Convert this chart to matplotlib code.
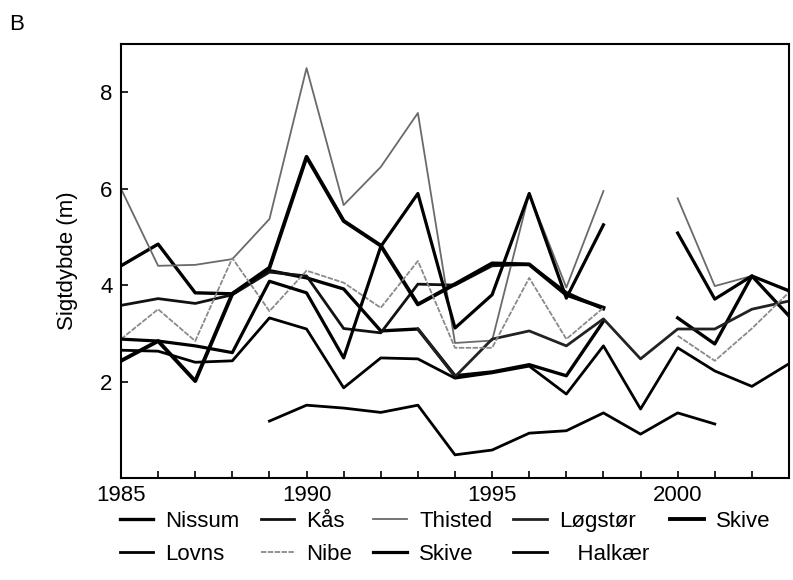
import numpy as np
import matplotlib
matplotlib.use("Agg")
import matplotlib.pyplot as plt

plt.rcParams['font.family'] = ['Liberation Sans', 'DejaVu Sans']

# === Data ===
years = np.arange(1985, 2004)
nan = np.nan

nissum = [4.40, 4.85, 3.84, 3.82, 4.30, 4.15, 3.92, 3.05, 3.09, 2.12, 2.20, 2.35, 2.12, 3.25,
          nan, 3.32, 2.78, 4.19, 3.36]
kaas = [3.58, 3.72, 3.62, 3.80, 4.27, 4.19, 3.10, 3.01, 4.02, 4.00, 4.40, 4.43, 3.85, 3.50,
        nan, nan, nan, nan, nan]
thisted = [6.00, 4.40, 4.42, 4.54, 5.37, 8.50, 5.66, 6.45, 7.57, 2.80, 2.85, 5.90, 3.95, 5.95,
           nan, 5.80, 3.98, 4.19, 3.90]
logstor = [nan, nan, nan, nan, nan, nan, nan, nan, 3.09, 2.10, 2.88, 3.05, 2.74, 3.30,
           2.47, 3.09, 3.09, 3.50, 3.67]
skive1 = [2.43, 2.84, 2.01, 3.82, 4.36, 6.66, 5.33, 4.82, 3.60, 4.02, 4.45, 4.43, 3.80, 3.53,
          nan, nan, nan, nan, nan]
lovns = [2.65, 2.63, 2.40, 2.43, 3.32, 3.09, 1.87, 2.49, 2.47, 2.07, 2.18, 2.32, 1.74, 2.74,
         1.43, 2.70, 2.22, 1.90, 2.37]
nibe = [2.88, 3.50, 2.84, 4.56, 3.46, 4.30, 4.05, 3.53, 4.50, 2.70, 2.70, 4.15, 2.88, 3.53,
        nan, 2.95, 2.43, 3.10, 3.85]
skive2 = [2.88, 2.84, 2.74, 2.60, 4.08, 3.84, 2.49, 4.80, 5.90, 3.11, 3.80, 5.90, 3.73, 5.25,
          nan, 5.08, 3.71, 4.19, 3.88]
halkaer = [nan, nan, nan, nan, 1.18, 1.51, 1.45, 1.36, 1.51, 0.48, 0.58, 0.93, 0.98, 1.35,
           0.91, 1.35, 1.12, nan, nan]

# === Figure ===
fig = plt.figure(figsize=(7.93, 5.80), dpi=100)
ax = fig.add_axes([121 / 793, 1 - 478 / 580, 668 / 793, 434 / 580])

l_nis, = ax.plot(years, nissum, color='black', lw=2.4)
l_kas, = ax.plot(years, kaas, color='#111111', lw=2.0)
l_thi, = ax.plot(years, thisted, color='#6a6a6a', lw=1.3)
l_log, = ax.plot(years, logstor, color='#222222', lw=2.0)
l_sk1, = ax.plot(years, skive1, color='black', lw=2.8)
l_lov, = ax.plot(years, lovns, color='black', lw=2.0)
l_nib, = ax.plot(years, nibe, color='#8a8a8a', lw=1.3, linestyle=(0, (3, 0.8)))
l_sk2, = ax.plot(years, skive2, color='black', lw=2.3)
l_hal, = ax.plot(years, halkaer, color='black', lw=2.0)

ax.set_xlim(1985, 2003)
ax.set_ylim(0, 9)
ax.set_xticks([1985, 1990, 1995, 2000])
ax.set_xticks(years, minor=True)
ax.set_yticks([2, 4, 6, 8])
ax.tick_params(which='both', direction='in', length=5, width=1.2, labelsize=16)
ax.tick_params(axis='x', pad=5)
ax.tick_params(axis='y', pad=6)
for s in ax.spines.values():
    s.set_linewidth(1.5)

ax.set_ylabel('Sigtdybde (m)', fontsize=16, labelpad=16)
fig.text(0.012, 0.948, 'B', fontsize=16)

# legend, column-major order so rows read like the original
handles = [l_nis, l_lov, l_kas, l_nib, l_thi, l_sk2, l_log, l_hal, l_sk1]
labels = ['Nissum', 'Lovns', 'Kås', 'Nibe', 'Thisted', 'Skive', 'Løgstør', '   Halkær', 'Skive']
fig.legend(handles, labels, ncol=5, loc='upper left', bbox_to_anchor=(120 / 793, 1 - 511 / 580),
           frameon=False, fontsize=16, handlelength=1.5, handletextpad=0.55,
           columnspacing=0.95, labelspacing=0.55, borderpad=0.0, borderaxespad=0.0)

fig.savefig('out.png', dpi=100)
